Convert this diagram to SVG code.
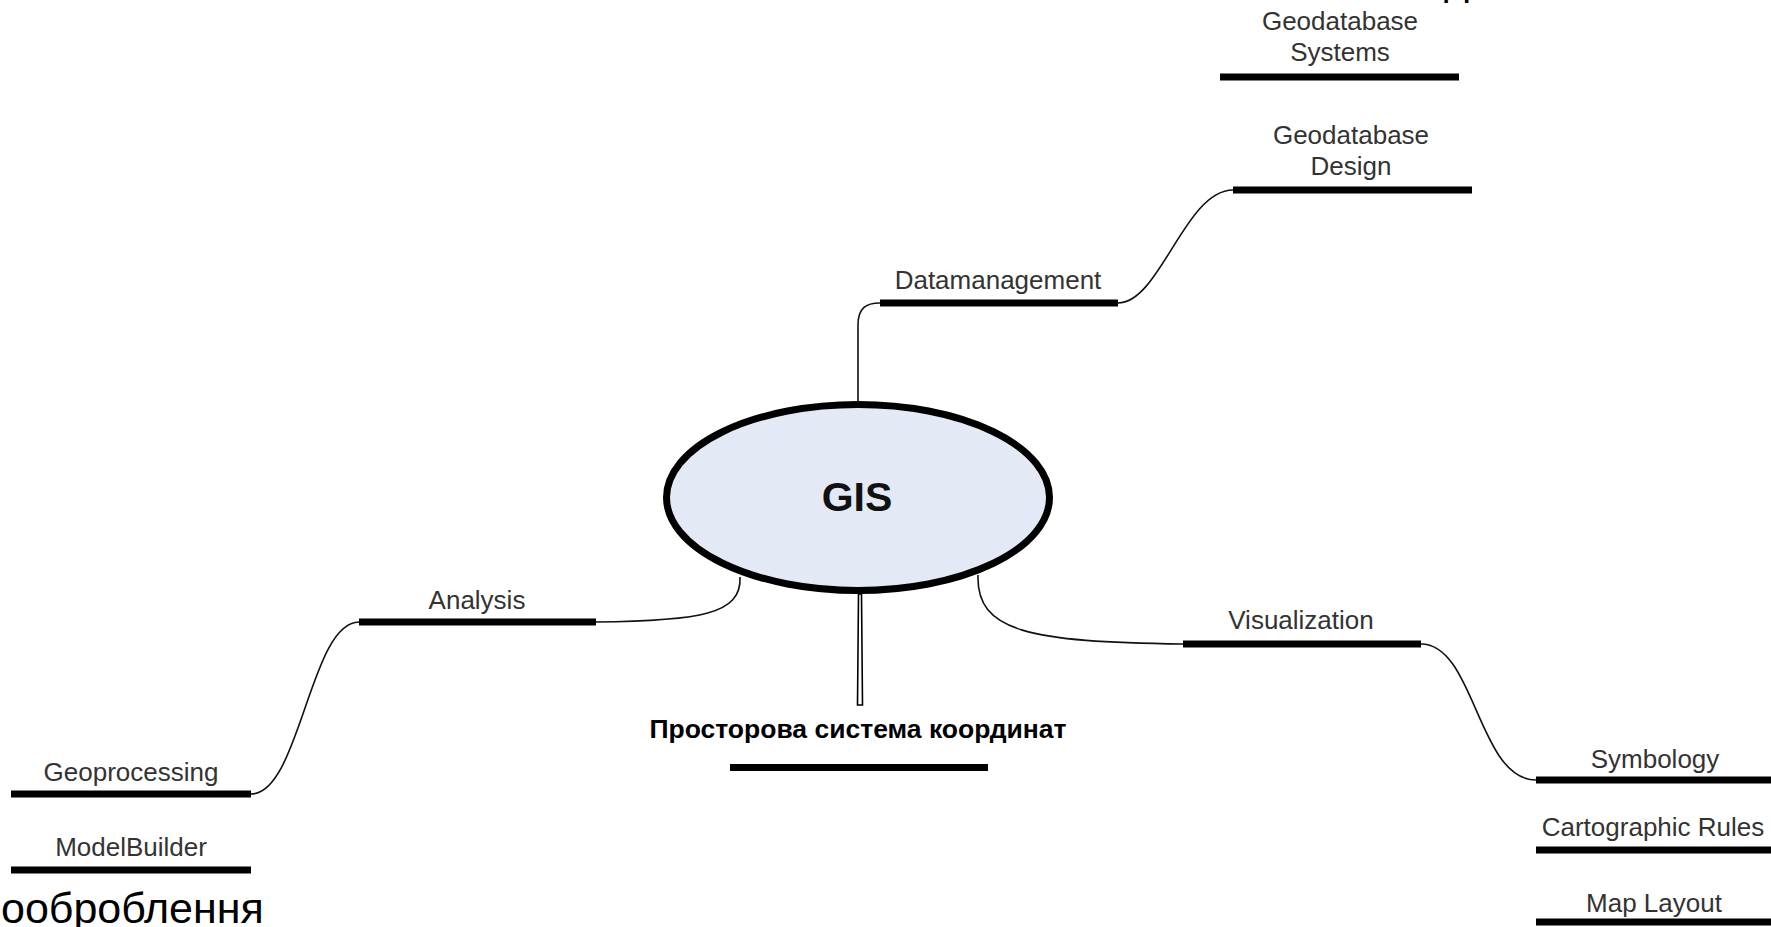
<svg xmlns="http://www.w3.org/2000/svg" width="1771" height="927" viewBox="0 0 1771 927">
  <style>
    .lbl { font-family: "Liberation Sans", Arial, sans-serif; font-size: 26px; fill: #333; text-anchor: middle; }
    .bar { stroke: #000; stroke-width: 7; fill: none; }
    .link { stroke: #111; stroke-width: 1.6; fill: none; }
    .big { font-family: "Liberation Sans", Arial, sans-serif; font-size: 43px; fill: #000; }
  </style>
  <rect width="1771" height="927" fill="#fff"/>

  <!-- connectors -->
  <g id="connectors">
    <path class="link" d="M858,401 L858,325 C858,308 866,303 880,303"/>
    <path class="link" d="M1118,303 C1160,303 1185,190 1233,190"/>
    <path class="link" d="M740,577 C742,614 700,621 596,622"/>
    <path class="link" d="M359,622 C310,622 300,794 251,794"/>
    <path class="link" d="M978,575 C976,632 1030,642 1183,644"/>
    <path class="link" d="M1421,644 C1475,644 1478,780 1536,780"/>
    <path d="M858.5,594 L857.5,705 L862.5,705 L861.5,594 Z" fill="#fff" stroke="#000" stroke-width="1.6"/>
  </g>

  <!-- central node -->
  <g id="gis">
    <ellipse cx="858" cy="497.5" rx="191.5" ry="93" fill="#e4eaf5" stroke="#000" stroke-width="7"/>
    <text x="857" y="511" font-family="'Liberation Sans', Arial, sans-serif" font-size="41" font-weight="bold" fill="#111" text-anchor="middle">GIS</text>
  </g>

  <g id="geodatabase-systems">
    <text class="lbl" x="1340" y="30">Geodatabase</text>
    <text class="lbl" x="1340" y="61">Systems</text>
    <line class="bar" x1="1220" y1="77" x2="1459" y2="77"/>
  </g>

  <g id="geodatabase-design">
    <text class="lbl" x="1351" y="144">Geodatabase</text>
    <text class="lbl" x="1351" y="175">Design</text>
    <line class="bar" x1="1233" y1="190" x2="1472" y2="190"/>
  </g>

  <g id="datamanagement">
    <text class="lbl" x="998" y="289">Datamanagement</text>
    <line class="bar" x1="880" y1="303" x2="1118" y2="303"/>
  </g>

  <g id="analysis">
    <text class="lbl" x="477" y="609">Analysis</text>
    <line class="bar" x1="359" y1="622" x2="596" y2="622"/>
  </g>

  <g id="geoprocessing">
    <text class="lbl" x="131" y="781">Geoprocessing</text>
    <line class="bar" x1="11" y1="794" x2="251" y2="794"/>
  </g>

  <g id="modelbuilder">
    <text class="lbl" x="131" y="856">ModelBuilder</text>
    <line class="bar" x1="11" y1="870" x2="251" y2="870"/>
  </g>

  <g id="visualization">
    <text class="lbl" x="1301" y="629">Visualization</text>
    <line class="bar" x1="1183" y1="644" x2="1421" y2="644"/>
  </g>

  <g id="symbology">
    <text class="lbl" x="1655" y="768">Symbology</text>
    <line class="bar" x1="1536" y1="780" x2="1771" y2="780"/>
  </g>

  <g id="cartographic-rules">
    <text class="lbl" x="1653" y="836">Cartographic Rules</text>
    <line class="bar" x1="1536" y1="850" x2="1771" y2="850"/>
  </g>

  <g id="map-layout">
    <text class="lbl" x="1654" y="912">Map Layout</text>
    <line class="bar" x1="1536" y1="922" x2="1771" y2="922"/>
  </g>

  <g id="coordinate-system">
    <text x="858" y="738" font-family="'Liberation Sans', Arial, sans-serif" font-size="26.5" font-weight="bold" fill="#000" text-anchor="middle">Просторова система координат</text>
    <line class="bar" x1="730" y1="767.5" x2="988" y2="767.5"/>
  </g>

  <!-- large caption text running off the edges -->
  <g id="captions">
    <text class="big" x="1" y="923">ообpоблення</text>
    <text class="big" x="1444" y="-6">д</text>
  </g>
</svg>
